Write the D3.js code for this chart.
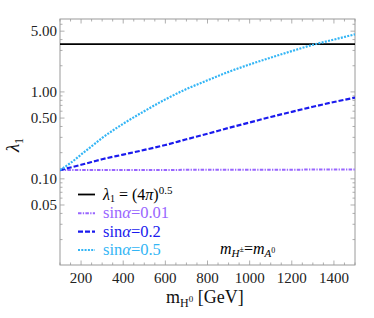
<!DOCTYPE html>
<html><head><meta charset="utf-8">
<script src="https://cdn.jsdelivr.net/npm/d3@7"></script>
<style>
body{margin:0;background:#fff;}
</style></head><body>
<svg id="c" width="374" height="318" font-family="'Liberation Serif', 'Times New Roman', 'DejaVu Serif', serif"></svg>
<script>
const masses = [100,150,200,250,300,400,500,600,700,800,900,1000,1100,1200,1300,1400,1500];
const sin001 = [0.126,0.126,0.126,0.126,0.126,0.126,0.126,0.126,0.127,0.127,0.127,0.127,0.127,0.127,0.128,0.128,0.128];
const sin02  = [0.126,0.135,0.145,0.156,0.168,0.19,0.215,0.245,0.285,0.33,0.385,0.445,0.515,0.59,0.675,0.765,0.86];
const sin05  = [0.126,0.152,0.19,0.237,0.295,0.43,0.60,0.82,1.08,1.36,1.70,2.07,2.48,2.95,3.48,4.0,4.6];
const lambdaMax = 3.545;
const yTickVals = [0.05,0.1,0.5,1,5];
const yTickLabels = ["0.05","0.10","0.50","1.00","5.00"];
const xTickVals = [200,400,600,800,1000,1200,1400];

const W=374,H=318, m={l:60,t:19,r:19,b:53};
const svg=d3.select("#c");
const x=d3.scaleLinear().domain([100,1500]).range([m.l,W-m.r]);
const y=d3.scaleLog().domain([0.0102,6.9]).range([H-m.b,m.t]);

const frame="#9a9a9a";
const yMinor=[];
[0.01,0.1,1].forEach(d=>{for(let k=2;k<=9;k++){const v=d*k; if(v>=0.0102&&v<=6.9&&!yTickVals.some(t=>Math.abs(t-v)<1e-9))yMinor.push(v);}});
const xMinor=d3.range(100,1501,50).filter(v=>v%200!==0);

const g=svg.append("g");
function vt(v,len){
  g.append("line").attr("x1",m.l).attr("x2",m.l+len).attr("y1",y(v)).attr("y2",y(v)).attr("stroke",frame).attr("stroke-width",0.8);
  g.append("line").attr("x1",W-m.r).attr("x2",W-m.r-len).attr("y1",y(v)).attr("y2",y(v)).attr("stroke",frame).attr("stroke-width",0.8);
}
function ht(v,len){
  g.append("line").attr("y1",H-m.b).attr("y2",H-m.b-len).attr("x1",x(v)).attr("x2",x(v)).attr("stroke",frame).attr("stroke-width",0.8);
  g.append("line").attr("y1",m.t).attr("y2",m.t+len).attr("x1",x(v)).attr("x2",x(v)).attr("stroke",frame).attr("stroke-width",0.8);
}
yTickVals.forEach(v=>vt(v,4.5)); yMinor.forEach(v=>vt(v,2.5));
xTickVals.forEach(v=>ht(v,4.5)); xMinor.forEach(v=>ht(v,2.5));

g.append("rect").attr("x",m.l).attr("y",m.t).attr("width",W-m.l-m.r).attr("height",H-m.t-m.b)
 .attr("fill","none").attr("stroke",frame).attr("stroke-width",1);

yTickVals.forEach((v,i)=>{
  svg.append("text").attr("x",m.l-3).attr("y",y(v)+5).attr("text-anchor","end").attr("font-size",15).attr("fill","#222").text(yTickLabels[i]);
});
xTickVals.forEach(v=>{
  svg.append("text").attr("x",x(v)).attr("y",H-m.b+18).attr("text-anchor","middle").attr("font-size",15).attr("fill","#222").text(v);
});

svg.append("clipPath").attr("id","cp").append("rect").attr("x",m.l).attr("y",m.t).attr("width",W-m.l-m.r).attr("height",H-m.t-m.b);
const line=d3.line().x(d=>x(d[0])).y(d=>y(d[1])).curve(d3.curveMonotoneX);
const cg=svg.append("g").attr("clip-path","url(#cp)");
cg.append("path").datum(masses.map(v=>[v,lambdaMax])).attr("d",line).attr("fill","none").attr("stroke","#000").attr("stroke-width",1.8);
const series=[
 {vals:sin001,color:"#9966ff",dash:"3.5,1.3,1.3,1.3",w:2,label:"0.01"},
 {vals:sin02,color:"#1a1aee",dash:"5,2",w:2.2,label:"0.2"},
 {vals:sin05,color:"#33b5f5",dash:"2,1.3",w:2.2,label:"0.5"}
];
series.forEach(s=>{
  cg.append("path").datum(masses.map((v,i)=>[v,s.vals[i]])).attr("d",line).attr("fill","none")
   .attr("stroke",s.color).attr("stroke-width",s.w).attr("stroke-dasharray",s.dash);
});

const lx1=78,lx2=95,tx=103;
const rows=[194.5,213.3,231.7,250];
svg.append("line").attr("x1",lx1).attr("x2",lx2).attr("y1",rows[0]).attr("y2",rows[0]).attr("stroke","#000").attr("stroke-width",1.8);
let t=svg.append("text").attr("x",tx).attr("y",rows[0]+5).attr("font-size",16).attr("fill","#000");
t.append("tspan").attr("font-style","italic").text("λ");
t.append("tspan").attr("font-size",10).attr("dy",2.5).text("1");
t.append("tspan").attr("dy",-2.5).text(" = (4");
t.append("tspan").attr("font-style","italic").text("π");
t.append("tspan").text(")");
t.append("tspan").attr("font-size",11).attr("dy",-6).text("0.5");
series.forEach((s,i)=>{
  const ry=rows[i+1];
  svg.append("line").attr("x1",lx1).attr("x2",lx2).attr("y1",ry).attr("y2",ry).attr("stroke",s.color).attr("stroke-width",s.w).attr("stroke-dasharray",s.dash);
  const tt=svg.append("text").attr("x",tx).attr("y",ry+5).attr("font-size",16.5).attr("fill",s.color);
  tt.append("tspan").text("sin");
  tt.append("tspan").attr("font-style","italic").text("α");
  tt.append("tspan").text("="+s.label);
});

const an=svg.append("text").attr("x",220).attr("y",254).attr("font-size",16).attr("font-style","italic").attr("fill","#000");
an.append("tspan").text("m");
an.append("tspan").attr("font-size",11).attr("dy",3).text("H");
an.append("tspan").attr("font-size",8).attr("dy",-5).attr("font-style","normal").text("±");
an.append("tspan").attr("dy",2).attr("font-style","normal").text("=");
an.append("tspan").text("m");
an.append("tspan").attr("font-size",11).attr("dy",3).text("A");
an.append("tspan").attr("font-size",8).attr("dy",-4).attr("font-style","normal").text("0");

const xt=svg.append("text").attr("x",166).attr("y",303).attr("font-size",18).attr("fill","#111");
xt.append("tspan").text("m");
xt.append("tspan").attr("font-size",12).attr("dy",4).text("H");
xt.append("tspan").attr("font-size",9).attr("dy",-5).text("0");
xt.append("tspan").attr("dy",1).text(" [GeV]");

const yt=svg.append("text").attr("transform","translate(19,145) rotate(-90)").attr("text-anchor","middle").attr("font-size",19).attr("fill","#111");
yt.append("tspan").attr("font-style","italic").text("λ");
yt.append("tspan").attr("font-size",12).attr("dy",4).text("1");
</script></body></html>
